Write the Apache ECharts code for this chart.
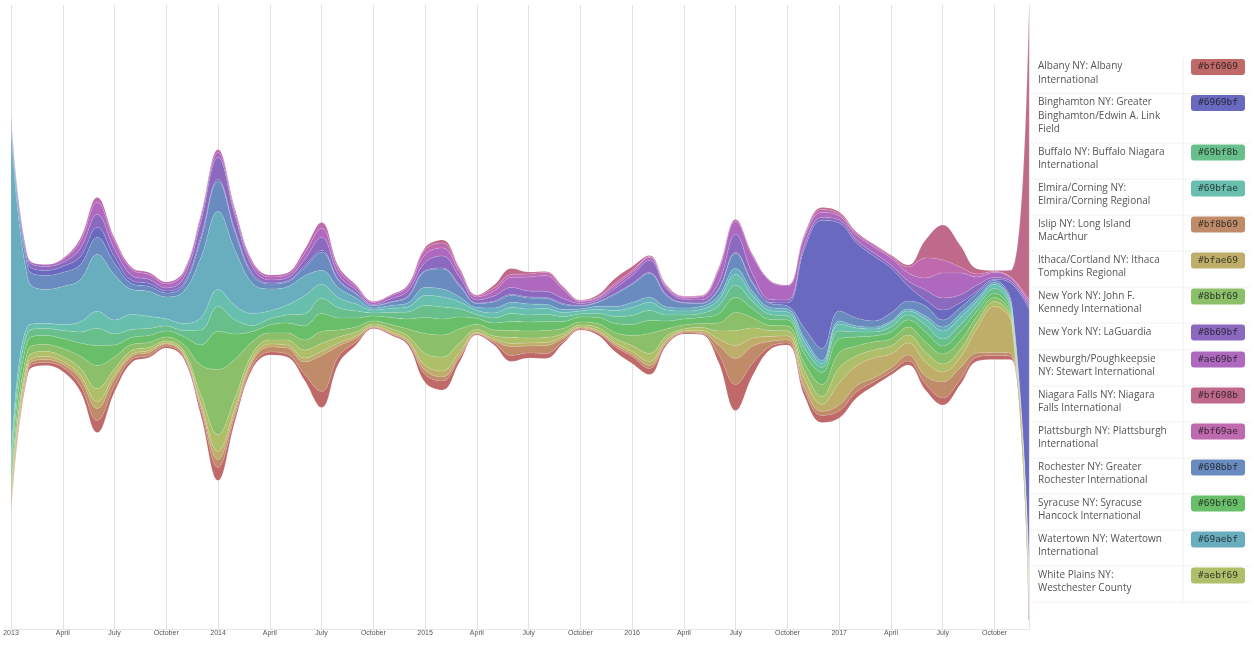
<!DOCTYPE html>
<html>
<head>
<meta charset="utf-8">
<script src="https://cdn.jsdelivr.net/npm/echarts@6/dist/echarts.min.js"></script>
<style>
html,body{margin:0;padding:0;background:#fff;}
#chart{width:1254px;height:646px;}
</style>
</head>
<body>
<div id="chart"></div>
<script>
// ---- Months (Jan 2013 .. Dec 2017), one point per month ----
const months = [
  '2013-01','2013-02','2013-03','2013-04','2013-05','2013-06','2013-07','2013-08','2013-09','2013-10','2013-11','2013-12',
  '2014-01','2014-02','2014-03','2014-04','2014-05','2014-06','2014-07','2014-08','2014-09','2014-10','2014-11','2014-12',
  '2015-01','2015-02','2015-03','2015-04','2015-05','2015-06','2015-07','2015-08','2015-09','2015-10','2015-11','2015-12',
  '2016-01','2016-02','2016-03','2016-04','2016-05','2016-06','2016-07','2016-08','2016-09','2016-10','2016-11','2016-12',
  '2017-01','2017-02','2017-03','2017-04','2017-05','2017-06','2017-07','2017-08','2017-09','2017-10','2017-11','2017-12'
];
// quarterly tick labels (one every 3 months from Jan 2013)
const tickLabels = [
  '2013','April','July','October','2014','April','July','October','2015','April','July','October',
  '2016','April','July','October','2017','April','July','October'
];

// ---- Airports (legend order) and their colours ----
const airports = [
  'Albany NY: Albany International',
  'Binghamton NY: Greater Binghamton/Edwin A. Link Field',
  'Buffalo NY: Buffalo Niagara International',
  'Elmira/Corning NY: Elmira/Corning Regional',
  'Islip NY: Long Island MacArthur',
  'Ithaca/Cortland NY: Ithaca Tompkins Regional',
  'New York NY: John F. Kennedy International',
  'New York NY: LaGuardia',
  'Newburgh/Poughkeepsie NY: Stewart International',
  'Niagara Falls NY: Niagara Falls International',
  'Plattsburgh NY: Plattsburgh International',
  'Rochester NY: Greater Rochester International',
  'Syracuse NY: Syracuse Hancock International',
  'Watertown NY: Watertown International',
  'White Plains NY: Westchester County'
];
const colors = [
  '#bf6969','#6969bf','#69bf8b','#69bfae','#bf8b69','#bfae69','#8bbf69','#8b69bf',
  '#ae69bf','#bf698b','#bf69ae','#698bbf','#69bf69','#69aebf','#aebf69'
];
// stacking order, top to bottom (indices into airports)
const stackOrder = [9, 10, 8, 7, 1, 11, 13, 3, 2, 12, 6, 14, 5, 4, 0];

// ---- Monthly values per airport ----
const albany = [2,3,3,4,6,12,6,3,2,2, 2,5,13,5,3,3,3,6,16,7, 3,1,1,2,8,9,4,1,2,6, 5,5,2,1,2,5,7,6,2,1, 1,8,26,12,3,2,5,7,7,6, 4,3,4,6,7,5,4,4,3,5];
const binghamton = [4,5,5,6,8,10,6,3,3,2, 2,3,2,2,2,1,1,2,2,1, 1,0.5,0.5,1,1,1,1,0.5,1,1, 1,1,1,0.5,0.5,1,1,1,1,0.5, 0.5,1,1,1,1,3,80,128,88,75, 65,45,15,6,10,5,2,1,20,255];
const buffalo = [8,8,7,8,11,17,11,8,7,5, 6,15,25,14,6,6,8,12,15,10, 7,3,5,7,12,12,8,4,5,8, 7,7,5,3,4,7,9,10,6,4, 4,8,12,7,5,4,6,5,8,5, 4,5,5,7,7,7,5,5,3,5];
const elmira = [8,6,5,6,10,17,14,15,12,7, 7,12,17,14,12,8,10,18,14,10, 7,3,4,5,10,10,7,4,5,6, 6,6,4,3,4,6,8,8,5,4, 4,6,11,6,4,4,6,4,7,4, 3,4,4,6,8,7,5,4,3,5];
const islip = [4,3,3,3,6,12,7,3,3,2, 2,4,8,4,4,5,6,12,36,10, 4,0.5,1,1,4,4,2,0.5,2,9, 7,8,3,1,1,2,2,3,1,1, 1,9,26,17,5,3,4,4,6,6, 4,4,6,8,16,12,4,3,3,5];
const ithaca = [6,4,3,3,4,7,4,2,2,1, 1,3,8,4,3,3,3,4,4,3, 2,1,1.5,2,5,6,4,1,2,3, 3,3,2,1,1.5,2,3,4,2,1, 2,6,13,8,5,4,8,7,22,20, 20,14,12,14,10,10,25,46,30,8];
const jfk = [6,8,7,8,12,23,12,6,5,4, 6,30,65,38,12,7,7,10,12,7, 5,3,4,7,20,22,14,5,6,7, 7,7,5,3,4,6,10,20,7,4, 4,8,18,10,5,5,8,12,15,10, 8,7,8,10,10,9,6,4,3,6];
const laguardia = [4,4,4,4,8,13,8,5,4,3, 5,15,22,14,6,3,3,6,13,5, 3,1,3,5,8,12,8,3,5,7, 6,6,5,2,2,5,8,12,6,3, 3,6,18,8,3,3,4,3,3,3, 3,3,5,10,12,8,6,2,2,3];
const newburgh = [2,2,2,3,7,12,8,6,5,4, 5,5,5,4,4,3,3,6,9,5, 3,2,3,4,8,8,5,3,5,10, 14,16,9,2,2,3,3,3,2,2, 3,12,13,18,18,14,8,5,4,5, 6,7,8,12,25,22,8,5,3,3];
const niagaraFalls = [0,0,0,0,0,0,0,0,0,0, 0,0,0,0,0,0,0,0,0,0, 0,0,0,0,2,3,1,0.5,3,6, 2,1,1,0.5,2,5,4,1,1,0.5, 0.5,1,0,0,0,0,1,2,2,1, 1,1,2,18,35,22,5,1,8,290];
const plattsburgh = [0,0,0,1,3,5,3,2,2,2, 2,2,3,3,2,2,2,4,6,3, 2,1,1,2,5,5,3,1.5,3,3, 3,3,2,1,1,2,2,1,1,1, 1,2,2,2,1,1,2,3,2,2, 2,2,6,20,13,6,3,1,1,3];
const rochester = [3,12,14,14,15,17,12,6,5,4, 6,18,30,18,8,5,5,8,18,7, 4,2,3,6,16,20,11,4,6,7, 6,6,5,3,4,12,18,24,11,5, 3,6,15,8,4,3,10,12,10,8, 6,8,8,10,7,6,5,2,3,5];
const syracuse = [10,10,9,10,13,20,12,7,7,6, 8,20,38,25,10,8,10,14,18,12, 9,5,7,10,16,16,12,6,7,9, 9,9,7,5,6,9,11,13,8,6, 6,9,15,9,6,6,9,12,14,9, 6,7,7,10,8,9,5,4,3,6];
const watertown = [340,45,34,38,42,57,45,25,25,22, 32,60,78,55,30,22,18,20,14,10, 6,2,3,4,8,8,5,3,5,5, 5,4,3,2,3,4,5,5,3,3, 3,4,6,4,3,3,4,3,3,2, 2,2,2,3,4,4,3,2,2,5];
const whitePlains = [6,5,5,5,7,13,6,4,3,2, 3,8,17,10,5,4,5,8,8,6, 4,2,3,4,12,14,9,3,3,6, 5,5,3,2,3,4,6,8,4,2, 3,8,15,10,6,5,8,8,15,10, 8,8,8,10,8,8,6,5,3,6];

const seriesValues = [albany, binghamton, buffalo, elmira, islip, ithaca, jfk, laguardia,
  newburgh, niagaraFalls, plattsburgh, rochester, syracuse, watertown, whitePlains];

// ---- Build themeRiver data in stacking order ----
const riverData = [];
const riverColors = [];
stackOrder.forEach(function (ai) {
  riverColors.push(colors[ai]);
  seriesValues[ai].forEach(function (v, i) {
    riverData.push([i, v, airports[ai]]);
  });
});

// ---- Legend table (graphic) ----
const legendFont = '10px "Open Sans"';
const measureCtx = document.createElement('canvas').getContext('2d');
measureCtx.font = legendFont;
function wrapText(text, maxW) {
  const words = text.split(' ');
  const lines = [];
  let cur = '';
  words.forEach(function (w) {
    const test = cur ? cur + ' ' + w : w;
    if (cur && measureCtx.measureText(test).width > maxW) {
      lines.push(cur);
      cur = w;
    } else {
      cur = test;
    }
  });
  if (cur) lines.push(cur);
  return lines;
}
const graphics = [];
const lineH = 13.5;
let rowTop = 57.5;
const panelLeft = 1031, panelRight = 1250, chipX = 1191, chipW = 54, divX = 1183;
const rowTops = [];
airports.forEach(function (name, i) {
  const lines = wrapText(name, 132);
  const firstCenter = rowTop + 9;
  rowTops.push(rowTop);
  graphics.push({
    type: 'text', x: 1038, y: firstCenter - lineH / 2, silent: true,
    style: { text: lines.join('\n'), font: legendFont, fill: '#555', lineHeight: lineH, verticalAlign: 'top', align: 'left' }
  });
  graphics.push({
    type: 'rect', silent: true,
    shape: { x: chipX, y: firstCenter - 7.5, width: chipW, height: 16, r: 3 },
    style: { fill: colors[i] }
  });
  graphics.push({
    type: 'text', x: chipX + chipW / 2, y: firstCenter + 0.5, silent: true,
    style: { text: colors[i], font: '9.5px "DejaVu Sans Mono"', fill: 'rgba(20,20,20,0.8)', align: 'center', verticalAlign: 'middle' }
  });
  rowTop += Math.max(lines.length * lineH, 18) + 9;
});
rowTops.push(rowTop);
rowTops.forEach(function (t, k) {
  if (k === 0) return;
  graphics.push({
    type: 'line', silent: true, z: -1,
    shape: { x1: panelLeft, y1: t, x2: panelRight, y2: t },
    style: { stroke: '#f2f2f2', lineWidth: 1 }
  });
});
graphics.push({
  type: 'line', silent: true, z: -1,
  shape: { x1: divX, y1: rowTops[0], x2: divX, y2: rowTops[rowTops.length - 1] },
  style: { stroke: '#efefef', lineWidth: 1 }
});

// ---- Chart ----
const chart = echarts.init(document.getElementById('chart'), null, { renderer: 'canvas' });
chart.setOption({
  animation: false,
  backgroundColor: '#ffffff',
  color: riverColors,
  singleAxis: {
    type: 'value',
    min: 0,
    max: months.length - 1,
    interval: 3,
    left: 11,
    right: 225,
    top: 5,
    height: 624,
    axisTick: { show: false },
    axisLine: { show: true, lineStyle: { color: '#e6e6e6', width: 1 } },
    splitLine: { show: true, showMaxLine: false, lineStyle: { color: '#e2e2e2', width: 1, type: 'solid', opacity: 1 } },
    axisLabel: {
      margin: 1,
      fontSize: 7,
      fontFamily: '"Liberation Sans", Arial, sans-serif',
      color: '#555',
      formatter: function (v) {
        if (v % 3 !== 0) return '';
        return tickLabels[v / 3] || '';
      }
    }
  },
  series: [{
    type: 'themeRiver',
    boundaryGap: [5, 9],
    label: { show: false },
    emphasis: { disabled: true },
    itemStyle: { borderColor: 'rgba(255,255,255,0.22)', borderWidth: 0.5, opacity: 1 },
    data: riverData
  }],
  graphic: graphics
});
</script>
</body>
</html>
